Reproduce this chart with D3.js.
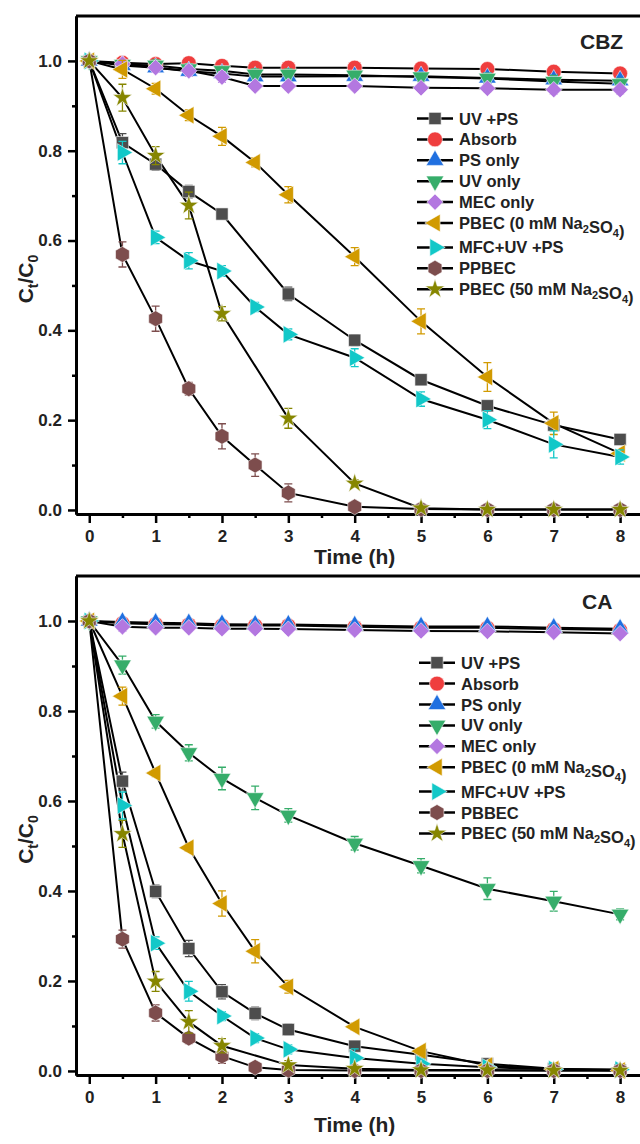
<!DOCTYPE html>
<html>
<head>
  <meta charset="utf-8">
  <title>Ct/C0 vs time - CBZ and CA</title>
  <script src="https://d3js.org/d3.v7.min.js"></script>
  <style>
    body { margin: 0; background: #fff; }
    svg text { font-family: "Liberation Sans", Arial, sans-serif; font-weight: bold; fill: #222; }
  </style>
</head>
<body>
<div id="chart"></div>
<script>
// sampling times (h)
const tFull = [0, 0.5, 1, 1.5, 2, 2.5, 3, 4, 5, 6, 7, 8];
const tNo25 = [0, 0.5, 1, 1.5, 2, 3, 4, 5, 6, 7, 8];

const xTicks = [0, 1, 2, 3, 4, 5, 6, 7, 8];
const xMinor = [0.5, 1.5, 2.5, 3.5, 4.5, 5.5, 6.5, 7.5];
const yTicks = [0, 0.2, 0.4, 0.6, 0.8, 1.0];
const yMinor = [0.1, 0.3, 0.5, 0.7, 0.9];

const seriesColors = ["#4d4d4d", "#ef3e3e", "#1f6fe0", "#36ad6a", "#b377e0", "#d19a00", "#12c8c8", "#7d4d4d", "#868600"];
const seriesShapes = ["square", "circle", "triUp", "triDown", "diamond", "triLeft", "triRight", "hexagon", "star"];
const cbzNames = ["UV +PS", "Absorb", "PS only", "UV only", "MEC only", "PBEC (0 mM Na_2SO_4)", "MFC+UV +PS", "PPBEC", "PBEC (50 mM Na_2SO_4)"];
const caNames = ["UV +PS", "Absorb", "PS only", "UV only", "MEC only", "PBEC (0 mM Na_2SO_4)", "MFC+UV +PS", "PBBEC", "PBEC (50 mM Na_2SO_4)"];

// CBZ
const cbzUvPs   = [1, 0.818, 0.770, 0.709, 0.659, 0.481, 0.378, 0.290, 0.232, 0.189, 0.157];
const cbzAbsorb = [1, 0.996, 0.993, 0.995, 0.989, 0.985, 0.985, 0.985, 0.983, 0.982, 0.976, 0.972];
const cbzPs     = [1, 0.990, 0.985, 0.977, 0.972, 0.965, 0.965, 0.966, 0.966, 0.962, 0.958, 0.956];
const cbzUv     = [1, 0.992, 0.990, 0.982, 0.978, 0.970, 0.970, 0.968, 0.964, 0.961, 0.954, 0.949];
const cbzMec    = [1, 0.993, 0.985, 0.978, 0.964, 0.944, 0.944, 0.944, 0.940, 0.939, 0.936, 0.936];
const cbzPbec0  = [1, 0.981, 0.938, 0.879, 0.832, 0.774, 0.702, 0.564, 0.420, 0.296, 0.193, 0.126];
const cbzMfc    = [1, 0.796, 0.607, 0.555, 0.532, 0.452, 0.391, 0.339, 0.247, 0.201, 0.146, 0.118];
const cbzPpbec  = [1, 0.569, 0.426, 0.270, 0.164, 0.100, 0.038, 0.007, 0.002, 0.001, 0.001, 0.001];
const cbzPbec50 = [1, 0.918, 0.789, 0.678, 0.437, 0.204, 0.059, 0.004, 0.001, 0.001, 0.001];

const cbzUvPsErr   = [0, 0.02, 0.014, 0.014, 0.012, 0.015, 0.012, 0.008, 0.006, 0.008, 0.008];
const cbzAbsorbErr = [0, 0.008, 0.008, 0.008, 0.008, 0.008, 0.006, 0.006, 0.006, 0.008, 0.006, 0.006];
const cbzPsErr     = [0, 0.008, 0.01, 0.01, 0.008, 0.01, 0.01, 0.01, 0.01, 0.012, 0.012, 0.01];
const cbzUvErr     = [0, 0.01, 0.012, 0.012, 0.01, 0.012, 0.012, 0.01, 0.01, 0.012, 0.014, 0.012];
const cbzMecErr    = [0, 0.008, 0.01, 0.012, 0.012, 0.008, 0.008, 0.008, 0.008, 0.008, 0.01, 0.01];
const cbzPbec0Err  = [0, 0.02, 0.012, 0.012, 0.02, 0.01, 0.018, 0.02, 0.028, 0.032, 0.025, 0.008];
const cbzMfcErr    = [0, 0.025, 0.014, 0.018, 0.012, 0.01, 0.012, 0.02, 0.016, 0.02, 0.03, 0.016];
const cbzPpbecErr  = [0, 0.028, 0.028, 0.014, 0.028, 0.025, 0.02, 0.004, 0.003, 0.003, 0.003, 0.003];
const cbzPbec50Err = [0, 0.03, 0.02, 0.03, 0.016, 0.022, 0.008, 0.005, 0.003, 0.003, 0.003];

// CA
const caUvPs   = [1, 0.644, 0.399, 0.272, 0.176, 0.128, 0.092, 0.055, 0.036, 0.016, 0.005, 0.002];
const caAbsorb = [1, 0.995, 0.993, 0.992, 0.990, 0.990, 0.990, 0.987, 0.985, 0.985, 0.982, 0.980];
const caPs     = [1, 0.998, 0.996, 0.995, 0.993, 0.992, 0.992, 0.990, 0.988, 0.988, 0.985, 0.983];
const caUv     = [1, 0.902, 0.777, 0.707, 0.650, 0.607, 0.568, 0.506, 0.456, 0.405, 0.377, 0.348];
const caMec    = [1, 0.987, 0.985, 0.985, 0.983, 0.983, 0.982, 0.980, 0.978, 0.977, 0.975, 0.972];
const caPbec0  = [1, 0.833, 0.662, 0.496, 0.372, 0.266, 0.187, 0.098, 0.044, 0.012, 0.004, 0.001];
const caMfc    = [1, 0.590, 0.284, 0.177, 0.122, 0.073, 0.048, 0.029, 0.016, 0.008, 0.004, 0.003];
const caPbbec  = [1, 0.293, 0.129, 0.073, 0.033, 0.008, 0.002, 0.001, 0.001, 0.001, 0.001, 0.001];
const caPbec50 = [1, 0.527, 0.199, 0.109, 0.056, 0.013, 0.005, 0.002, 0.002, 0.001, 0.001];

const caUvPsErr   = [0, 0.02, 0.014, 0.018, 0.016, 0.014, 0.012, 0.01, 0.008, 0.006, 0.005, 0.004];
const caAbsorbErr = [0, 0.006, 0.006, 0.006, 0.006, 0.006, 0.006, 0.005, 0.005, 0.005, 0.005, 0.005];
const caPsErr     = [0, 0.006, 0.006, 0.006, 0.006, 0.006, 0.006, 0.006, 0.005, 0.005, 0.005, 0.005];
const caUvErr     = [0, 0.02, 0.015, 0.018, 0.025, 0.026, 0.015, 0.015, 0.016, 0.024, 0.022, 0.012];
const caMecErr    = [0, 0.01, 0.008, 0.008, 0.008, 0.008, 0.008, 0.008, 0.008, 0.008, 0.006, 0.006];
const caPbec0Err  = [0, 0.02, 0.008, 0.008, 0.028, 0.026, 0.014, 0.008, 0.008, 0.008, 0.005, 0.004];
const caMfcErr    = [0, 0.03, 0.014, 0.022, 0.01, 0.01, 0.01, 0.02, 0.01, 0.006, 0.005, 0.005];
const caPbbecErr  = [0, 0.02, 0.018, 0.012, 0.016, 0.008, 0.004, 0.003, 0.003, 0.003, 0.003, 0.003];
const caPbec50Err = [0, 0.03, 0.022, 0.025, 0.016, 0.01, 0.004, 0.003, 0.003, 0.003, 0.003];

const panels = [
  { label: "CBZ", names: cbzNames, topY: 16, axisY: 514, labelX: 580, titleY: 571, legendTop: 118.5, lx: 417,
    times: [tNo25, tFull, tFull, tFull, tFull, tFull, tFull, tFull, tNo25],
    values: [cbzUvPs, cbzAbsorb, cbzPs, cbzUv, cbzMec, cbzPbec0, cbzMfc, cbzPpbec, cbzPbec50],
    errs: [cbzUvPsErr, cbzAbsorbErr, cbzPsErr, cbzUvErr, cbzMecErr, cbzPbec0Err, cbzMfcErr, cbzPpbecErr, cbzPbec50Err] },
  { label: "CA", names: caNames, topY: 576, axisY: 1075, labelX: 582, titleY: 1139, legendTop: 662.7, lx: 419,
    times: [tFull, tFull, tFull, tFull, tFull, tFull, tFull, tFull, tNo25],
    values: [caUvPs, caAbsorb, caPs, caUv, caMec, caPbec0, caMfc, caPbbec, caPbec50],
    errs: [caUvPsErr, caAbsorbErr, caPsErr, caUvErr, caMecErr, caPbec0Err, caMfcErr, caPbbecErr, caPbec50Err] }
];

const svg = d3.select("#chart").append("svg")
  .attr("width", 640).attr("height", 1144);

const hexagon = {
  draw(ctx, size) {
    const r = Math.sqrt(2 * size / (3 * Math.sqrt(3)));
    for (let k = 0; k < 6; k++) {
      const a = -Math.PI / 2 + k * Math.PI / 3;
      if (k === 0) ctx.moveTo(r * Math.cos(a), r * Math.sin(a));
      else ctx.lineTo(r * Math.cos(a), r * Math.sin(a));
    }
    ctx.closePath();
  }
};
const shapeDefs = {
  square:   { type: d3.symbolSquare, size: 150, rot: 0 },
  circle:   { type: d3.symbolCircle, size: 175, rot: 0 },
  triUp:    { type: d3.symbolTriangle, size: 135, rot: 0 },
  triDown:  { type: d3.symbolTriangle, size: 135, rot: 180 },
  diamond:  { type: d3.symbolSquare, size: 135, rot: 45 },
  triLeft:  { type: d3.symbolTriangle, size: 135, rot: -90 },
  triRight: { type: d3.symbolTriangle, size: 135, rot: 90 },
  hexagon:  { type: hexagon, size: 165, rot: 0 },
  star:     { type: d3.symbolStar, size: 115, rot: 0 }
};

function marker(sel, shape, color, cx, cy) {
  const s = shapeDefs[shape];
  sel.append("path")
    .attr("d", d3.symbol(s.type, s.size)())
    .attr("transform", `translate(${cx},${cy}) rotate(${s.rot})`)
    .attr("fill", color)
    .attr("stroke", "#fff").attr("stroke-width", 0.8).attr("stroke-opacity", 0.7);
}

// text with _N subscripts
function richText(textSel, str, subSize) {
  const parts = str.split(/_(\w)/);
  parts.forEach((p, i) => {
    if (p === "") return;
    if (i % 2 === 1) {
      textSel.append("tspan").attr("font-size", subSize).attr("dy", 4).text(p);
      textSel.append("tspan").attr("dy", -4).text("");
    } else {
      textSel.append("tspan").text(p);
    }
  });
}

function drawPanel(p) {
  const x = d3.scaleLinear().domain([-0.2, 8.3]).range([76, 640]);
  const y = d3.scaleLinear().domain([-0.009, 1.1]).range([p.axisY, p.topY]);
  const g = svg.append("g");

  // top frame line
  g.append("line")
    .attr("x1", 76).attr("x2", 642).attr("y1", p.topY).attr("y2", p.topY)
    .attr("stroke", "#000").attr("stroke-width", 3);

  // axes
  g.append("g").attr("transform", "translate(76,0)")
    .call(d3.axisLeft(y).tickValues(yTicks).tickFormat(d3.format(".1f")).tickSize(8).tickSizeOuter(0).tickPadding(6));
  g.append("g").attr("transform", "translate(76,0)")
    .call(d3.axisLeft(y).tickValues(yMinor).tickFormat("").tickSize(4).tickSizeOuter(0));
  g.append("g").attr("transform", `translate(0,${p.axisY})`)
    .call(d3.axisBottom(x).tickValues(xTicks).tickFormat(d3.format("d")).tickSize(9).tickSizeOuter(0).tickPadding(7));
  g.append("g").attr("transform", `translate(0,${p.axisY})`)
    .call(d3.axisBottom(x).tickValues(xMinor).tickFormat("").tickSize(4).tickSizeOuter(0));
  g.selectAll(".domain").attr("stroke", "#000").attr("stroke-width", 3);
  g.selectAll(".tick line").attr("stroke", "#000").attr("stroke-width", 2.5);
  g.selectAll(".tick text").attr("font-size", 17).attr("fill", "#222")
    .attr("font-family", "'Liberation Sans', Arial, sans-serif").attr("font-weight", "bold");

  // axis titles
  g.append("text").attr("x", (x(0) + x(8)) / 2).attr("y", p.titleY - 7)
    .attr("text-anchor", "middle").attr("font-size", 21).text("Time (h)");
  const yl = g.append("text")
    .attr("transform", `translate(33,${(p.topY + p.axisY) / 2 + 14}) rotate(-90)`)
    .attr("text-anchor", "middle").attr("font-size", 21);
  yl.append("tspan").text("C");
  yl.append("tspan").attr("font-size", 14).attr("dy", 5).text("t");
  yl.append("tspan").attr("dy", -5).text("/C");
  yl.append("tspan").attr("font-size", 14).attr("dy", 5).text("0");

  // panel label
  g.append("text").attr("x", p.labelX).attr("y", p.topY + 33).attr("font-size", 21).text(p.label);

  const line = d3.line().x(d => x(d.t)).y(d => y(d.v));
  const series = p.values.map((vals, i) => vals.map((v, j) => ({ t: p.times[i][j], v: v, e: p.errs[i][j] })));

  // connecting lines
  series.forEach(pts => {
    g.append("path").datum(pts).attr("d", line)
      .attr("fill", "none").attr("stroke", "#000").attr("stroke-width", 2);
  });

  // error bars + markers
  series.forEach((pts, i) => {
    const col = seriesColors[i];
    const sg = g.append("g");
    pts.filter(d => d.e > 0).forEach(d => {
      const cx = x(d.t), y1 = y(d.v - d.e), y2 = y(d.v + d.e);
      sg.append("path")
        .attr("d", `M${cx},${y1}V${y2}M${cx - 4},${y1}H${cx + 4}M${cx - 4},${y2}H${cx + 4}`)
        .attr("stroke", col).attr("stroke-width", 1.3).attr("fill", "none");
    });
    pts.forEach(d => marker(sg, seriesShapes[i], col, x(d.t), y(d.v)));
  });

  // legend
  const lg = g.append("g");
  p.names.forEach((name, i) => {
    const ry = p.legendTop + i * 20.9 + (i >= 6 ? 3.5 : 0);
    lg.append("line").attr("x1", p.lx).attr("x2", p.lx + 36).attr("y1", ry).attr("y2", ry)
      .attr("stroke", "#000").attr("stroke-width", 2.5);
    marker(lg, seriesShapes[i], seriesColors[i], p.lx + 18, ry);
    const t = lg.append("text").attr("x", p.lx + 42).attr("y", ry + 6).attr("font-size", 16.5);
    richText(t, name, 11);
  });
}

panels.forEach(drawPanel);
</script>
</body>
</html>
